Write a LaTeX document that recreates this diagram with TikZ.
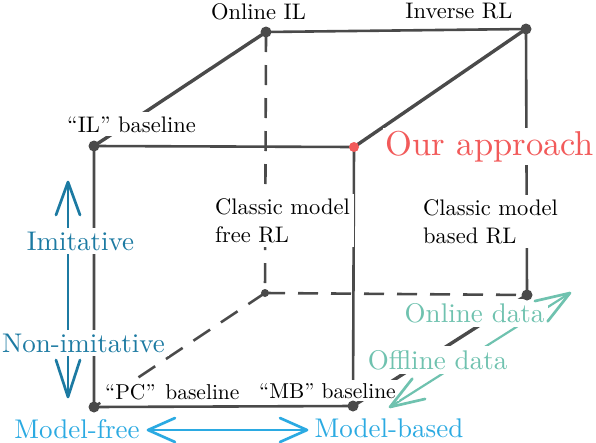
\documentclass[tikz,border=0pt]{standalone}
\usepackage{fontspec}
\setmainfont{lmroman10-regular}[Extension=.otf]
\usetikzlibrary{calc}
\definecolor{edgegray}{HTML}{4A4A4A}
\definecolor{ourred}{HTML}{F25A5A}
\definecolor{imiblue}{HTML}{1C7AA2}
\definecolor{mbblue}{HTML}{2BAAE2}
\definecolor{datagreen}{HTML}{6FC2AF}
\newcommand{\drawVhead}[5]{\draw[#1] ($(#2)!#4!(#3)!#5!90:(#2)$) -- (#2) -- ($(#2)!#4!(#3)!#5!-90:(#2)$);}
\begin{document}
\begin{tikzpicture}[x=1pt,y=-1pt,line cap=round,line join=round,
  edge/.style={draw=edgegray,line width=2.6pt},
  diag/.style={draw=edgegray,line width=3.4pt},
  hidden/.style={draw=edgegray,line width=2.6pt,line cap=butt,dash pattern=on 20pt off 13pt},
  vdot/.style={circle,fill=edgegray,inner sep=0pt,minimum size=11pt},
  lbl/.style={fill=white,inner sep=4pt,text=black,font=\fontsize{22.5}{28}\selectfont},
  blbl/.style={fill=white,inner sep=3pt,text=black,font=\fontsize{21.5}{26}\selectfont},
  clbl/.style={fill=white,inner sep=4pt,font=\fontsize{27}{30}\selectfont},
  shaft/.style={line width=2.2pt},
  head/.style={line width=2.7pt}
]
\useasboundingbox (0,0) rectangle (596,442);
% cube vertices
\coordinate (ftl) at (94,146);
\coordinate (ftr) at (354,147);
\coordinate (btl) at (266,32);
\coordinate (btr) at (526,29);
\coordinate (fbl) at (94,407);
\coordinate (fbr) at (353,406);
\coordinate (bbl) at (265,293);
\coordinate (bbr) at (527,295);
% hidden edges
\draw[hidden] (btl) -- (bbl);
\draw[hidden] (bbl) -- (bbr);
\draw[hidden] (bbl) -- (fbl);
% visible edges
\draw[edge] (ftl) -- (ftr) -- (fbr) -- (fbl) -- cycle;
\draw[edge] (btl) -- (btr) -- (bbr);
\draw[diag] (fbr) -- (bbr);
\draw[diag] (ftl) -- (btl);
\draw[diag] (ftr) -- (btr);
% arrow shafts
\coordinate (imiTop) at (68,182);
\coordinate (imiBot) at (68,397);
\coordinate (mfTip) at (148,430);
\coordinate (mbTip) at (307,430);
\coordinate (offTip) at (390,407);
\coordinate (onTip) at (570,293);
\draw[imiblue,shaft] (imiTop) -- (imiBot);
\draw[mbblue,shaft] (mfTip) -- (mbTip);
\draw[datagreen,shaft] (offTip) -- (onTip);
% labels
\node[lbl,anchor=base] (onlineIL) at (258.5,19) {Online IL};
\node[lbl,anchor=base] (inverseRL) at (459,18) {Inverse RL};
\node[lbl,anchor=base] (ilBase) at (131.5,132) {“IL” baseline};
\node[fill=white,inner sep=3pt,text=ourred,font=\fontsize{34.5}{40}\selectfont,anchor=base] (ours) at (490,155) {Our approach};
\node[lbl,anchor=base west,align=left] (cmf) at (211,242) {Classic model\\free RL};
\node[lbl,anchor=base west,align=left] (cmb) at (419,243) {Classic model\\based RL};
\node[blbl,anchor=base west] (pcBase) at (102,399) {“PC”\hspace{0.45em}baseline};
\node[blbl,anchor=base] (mbBase) at (327.5,398) {“MB” baseline};
\node[clbl,text=imiblue,anchor=base] (imit) at (80.5,250) {Imitative};
\node[clbl,text=imiblue,anchor=base west] (nonimit) at (-2,352) {Non-imitative};
\node[clbl,text=mbblue,anchor=base] (mfree) at (77,438) {Model-free};
\node[clbl,text=mbblue,anchor=base] (mbased) at (389,437) {Model-based};
\node[clbl,text=datagreen,anchor=base] (online) at (474.5,322) {Online data};
\node[clbl,text=datagreen,anchor=base] (offline) at (437.5,369) {Offline data};
% arrow heads
\drawVhead{imiblue,head}{imiTop}{imiBot}{33pt}{12pt}
\drawVhead{imiblue,head}{imiBot}{imiTop}{37pt}{12pt}
\drawVhead{mbblue,head}{mfTip}{mbTip}{27pt}{12pt}
\drawVhead{mbblue,head}{mbTip}{mfTip}{27pt}{12pt}
\drawVhead{datagreen,head}{onTip}{offTip}{34pt}{12pt}
\drawVhead{datagreen,head}{offTip}{onTip}{34pt}{12pt}
% vertex dots
\node[vdot] (dftl) at (ftl) {};
\node[vdot,fill=ourred,minimum size=10pt] (dftr) at (ftr) {};
\node[vdot] (dbtl) at (btl) {};
\node[vdot] (dbtr) at (btr) {};
\node[vdot] (dfbl) at (fbl) {};
\node[vdot] (dfbr) at (fbr) {};
\node[vdot,minimum size=8pt] (dbbl) at (bbl) {};
\node[vdot] (dbbr) at (bbr) {};
\end{tikzpicture}
\end{document}
